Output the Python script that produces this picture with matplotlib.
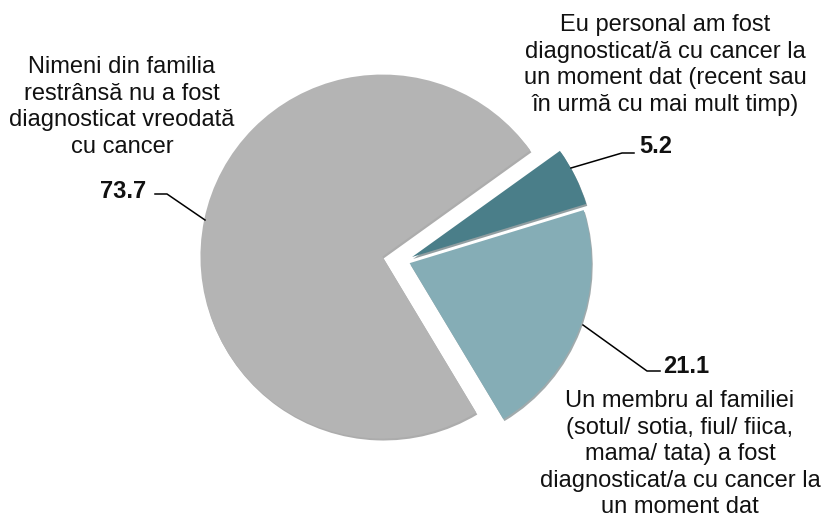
import matplotlib.pyplot as plt

# data (slice order as drawn counter-clockwise from the lower edge of the light slice)
labels = ["Un membru al familiei\n(sotul/ sotia, fiul/ fiica,\nmama/ tata) a fost\ndiagnosticat/a cu cancer la\nun moment dat",
          "Eu personal am fost\ndiagnosticat/ă cu cancer la\nun moment dat (recent sau\nîn urmă cu mai mult timp)",
          "Nimeni din familia\nrestrânsă nu a fost\ndiagnosticat vreodată\ncu cancer"]
values = [21.1, 5.2, 73.7]
colors = ["#85adb6", "#4a7e89", "#b4b4b4"]

plt.rcParams['font.family'] = ['Liberation Sans', 'DejaVu Sans']

W, H = 825, 524
fig = plt.figure(figsize=(W / 100, H / 100), dpi=100)
ax = fig.add_axes([0, 0, 1, 1])

cx, cy, r = 404, H - 261, 182
# explode offsets are in data units (pixels here)
wedges, _ = ax.pie(values, colors=colors, explode=[6, 9, 22], startangle=-59,
                   center=(cx, cy), radius=r,
                   wedgeprops=dict(linewidth=0),
                   shadow={'ox': 0.8, 'oy': -1.4, 'shade': 0.5})

ax.set_xlim(0, W)
ax.set_ylim(0, H)
ax.set_aspect('equal')
ax.axis('off')

fs = 17
ls = 1.27
tc = '#111111'

# category labels
ax.text(122, H - 56, labels[2], ha='center', va='top', fontsize=fs, linespacing=ls, color=tc)
ax.text(665, H - 14, labels[1], ha='center', va='top', fontsize=fs, linespacing=ls, color=tc)
ax.text(680, H - 390, labels[0], ha='center', va='top', fontsize=fs, linespacing=ls, color=tc)

# value labels with leader lines
ax.text(123, H - 198, f"{values[2]:.1f}", ha='center', va='baseline', fontsize=fs, fontweight='bold', color=tc)
ax.plot([155, 167, 205], [H - 194, H - 194, H - 220], color='black', lw=1.1)

ax.text(656, H - 153, f"{values[1]:.1f}", ha='center', va='baseline', fontsize=fs, fontweight='bold', color=tc)
ax.plot([571, 622, 634], [H - 168, H - 153, H - 153], color='black', lw=1.1)

ax.text(686, H - 373, f"{values[0]:.1f}", ha='center', va='baseline', fontsize=fs, fontweight='bold', color=tc)
ax.plot([583, 647, 660], [H - 325, H - 371, H - 371], color='black', lw=1.1)

# grey arrow at the right edge
ax.annotate('', xy=(828, H - 241), xytext=(736, H - 241),
            arrowprops=dict(arrowstyle='->,head_length=0.9,head_width=0.6',
                            color='#808080', lw=3.5))

fig.savefig('out.png', dpi=100)
